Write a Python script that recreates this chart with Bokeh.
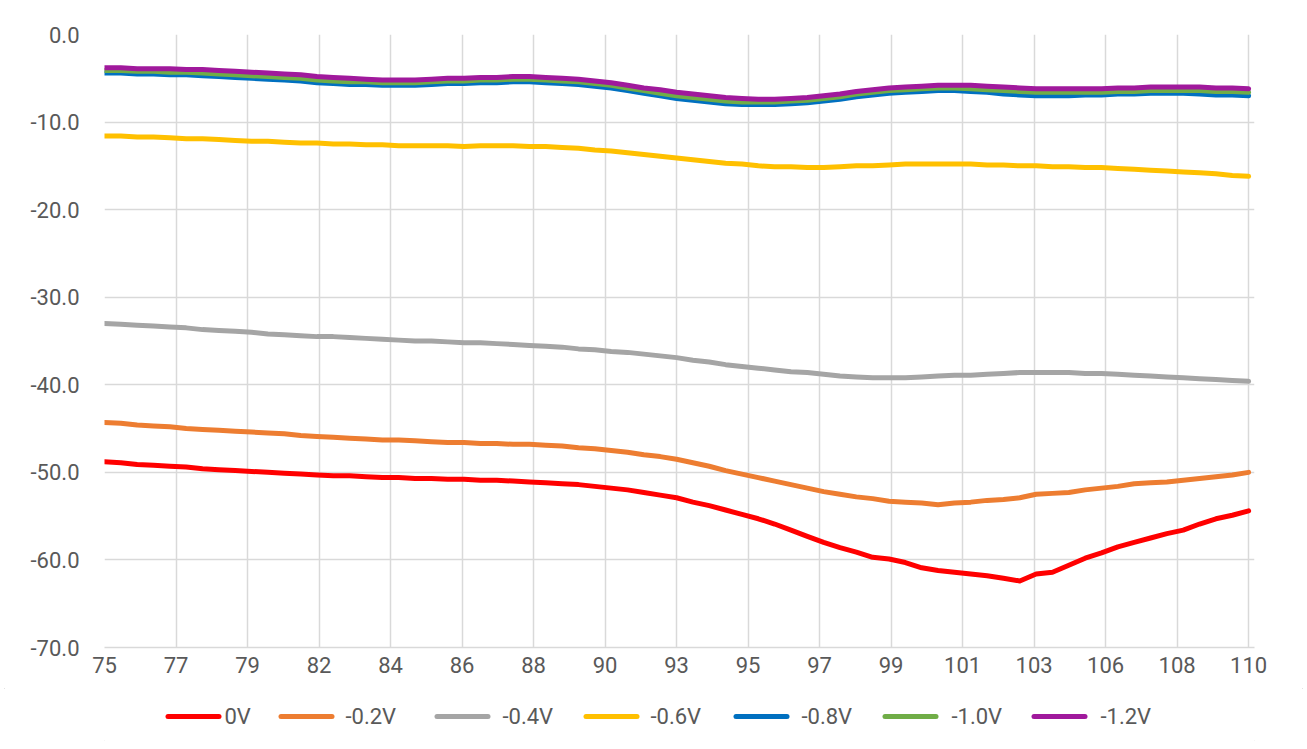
from bokeh.plotting import figure
from bokeh.layouts import column
from bokeh.models import FixedTicker, NumeralTickFormatter, Range1d
from bokeh.core.properties import value
from bokeh.embed import file_html
from bokeh.resources import INLINE

freq = [75.0, 75.5, 76.0, 76.5, 77.0, 77.5, 78.0, 78.5, 79.0, 79.5,
        80.0, 80.5, 81.0, 81.5, 82.0, 82.5, 83.0, 83.5, 84.0, 84.5,
        85.0, 85.5, 86.0, 86.5, 87.0, 87.5, 88.0, 88.5, 89.0, 89.5,
        90.0, 90.5, 91.0, 91.5, 92.0, 92.5, 93.0, 93.5, 94.0, 94.5,
        95.0, 95.5, 96.0, 96.5, 97.0, 97.5, 98.0, 98.5, 99.0, 99.5,
        100.0, 100.5, 101.0, 101.5, 102.0, 102.5, 103.0, 103.5, 104.0, 104.5,
        105.0, 105.5, 106.0, 106.5, 107.0, 107.5, 108.0, 108.5, 109.0, 109.5,
        110.0]

v_0 = [-48.8, -48.9, -49.1, -49.2, -49.3, -49.4, -49.6, -49.7, -49.8, -49.9,
       -50.0, -50.1, -50.2, -50.3, -50.4, -50.4, -50.5, -50.6, -50.6, -50.7,
       -50.7, -50.8, -50.8, -50.9, -50.9, -51.0, -51.1, -51.2, -51.3, -51.4,
       -51.6, -51.8, -52.0, -52.3, -52.6, -52.9, -53.4, -53.8, -54.3, -54.8,
       -55.3, -55.9, -56.6, -57.3, -58.0, -58.6, -59.1, -59.7, -59.9, -60.3,
       -60.9, -61.2, -61.4, -61.6, -61.8, -62.1, -62.4, -61.6, -61.4, -60.6,
       -59.8, -59.2, -58.5, -58.0, -57.5, -57.0, -56.6, -55.9, -55.3, -54.9,
       -54.4]

v_m02 = [-44.3, -44.4, -44.6, -44.7, -44.8, -45.0, -45.1, -45.2, -45.3, -45.4,
         -45.5, -45.6, -45.8, -45.9, -46.0, -46.1, -46.2, -46.3, -46.3, -46.4,
         -46.5, -46.6, -46.6, -46.7, -46.7, -46.8, -46.8, -46.9, -47.0, -47.2,
         -47.3, -47.5, -47.7, -48.0, -48.2, -48.5, -48.9, -49.3, -49.8, -50.2,
         -50.6, -51.0, -51.4, -51.8, -52.2, -52.5, -52.8, -53.0, -53.3, -53.4,
         -53.5, -53.7, -53.5, -53.4, -53.2, -53.1, -52.9, -52.5, -52.4, -52.3,
         -52.0, -51.8, -51.6, -51.3, -51.2, -51.1, -50.9, -50.7, -50.5, -50.3,
         -50.0]

v_m04 = [-33.0, -33.1, -33.2, -33.3, -33.4, -33.5, -33.7, -33.8, -33.9, -34.0,
         -34.2, -34.3, -34.4, -34.5, -34.5, -34.6, -34.7, -34.8, -34.9, -35.0,
         -35.0, -35.1, -35.2, -35.2, -35.3, -35.4, -35.5, -35.6, -35.7, -35.9,
         -36.0, -36.2, -36.3, -36.5, -36.7, -36.9, -37.2, -37.4, -37.7, -37.9,
         -38.1, -38.3, -38.5, -38.6, -38.8, -39.0, -39.1, -39.2, -39.2, -39.2,
         -39.1, -39.0, -38.9, -38.9, -38.8, -38.7, -38.6, -38.6, -38.6, -38.6,
         -38.7, -38.7, -38.8, -38.9, -39.0, -39.1, -39.2, -39.3, -39.4, -39.5,
         -39.6]

v_m06 = [-11.6, -11.6, -11.7, -11.7, -11.8, -11.9, -11.9, -12.0, -12.1, -12.2,
         -12.2, -12.3, -12.4, -12.4, -12.5, -12.5, -12.6, -12.6, -12.7, -12.7,
         -12.7, -12.7, -12.8, -12.7, -12.7, -12.7, -12.8, -12.8, -12.9, -13.0,
         -13.2, -13.3, -13.5, -13.7, -13.9, -14.1, -14.3, -14.5, -14.7, -14.8,
         -15.0, -15.1, -15.1, -15.2, -15.2, -15.1, -15.0, -15.0, -14.9, -14.8,
         -14.8, -14.8, -14.8, -14.8, -14.9, -14.9, -15.0, -15.0, -15.1, -15.1,
         -15.2, -15.2, -15.3, -15.4, -15.5, -15.6, -15.7, -15.8, -15.9, -16.1,
         -16.2]

v_m08 = [-4.4, -4.4, -4.5, -4.5, -4.6, -4.6, -4.7, -4.8, -4.9, -5.0,
         -5.1, -5.2, -5.3, -5.5, -5.6, -5.7, -5.7, -5.8, -5.8, -5.8,
         -5.7, -5.6, -5.6, -5.5, -5.5, -5.4, -5.4, -5.5, -5.6, -5.7,
         -5.9, -6.1, -6.4, -6.7, -7.0, -7.3, -7.5, -7.7, -7.9, -8.0,
         -8.0, -8.0, -7.9, -7.8, -7.6, -7.4, -7.1, -6.9, -6.7, -6.6,
         -6.5, -6.4, -6.4, -6.5, -6.6, -6.8, -6.9, -7.0, -7.0, -7.0,
         -6.9, -6.9, -6.8, -6.8, -6.7, -6.7, -6.7, -6.8, -6.9, -6.9,
         -7.0]

v_m10 = [-4.1, -4.1, -4.2, -4.2, -4.3, -4.3, -4.4, -4.5, -4.6, -4.7,
         -4.8, -4.9, -5.0, -5.2, -5.3, -5.4, -5.4, -5.5, -5.5, -5.5,
         -5.4, -5.3, -5.3, -5.2, -5.2, -5.1, -5.1, -5.2, -5.3, -5.4,
         -5.6, -5.8, -6.1, -6.4, -6.7, -7.0, -7.2, -7.4, -7.6, -7.7,
         -7.7, -7.7, -7.6, -7.5, -7.3, -7.1, -6.8, -6.6, -6.4, -6.3,
         -6.2, -6.1, -6.1, -6.2, -6.3, -6.4, -6.5, -6.6, -6.6, -6.6,
         -6.6, -6.6, -6.5, -6.5, -6.4, -6.4, -6.4, -6.4, -6.5, -6.5,
         -6.6]

v_m12 = [-3.8, -3.8, -3.9, -3.9, -3.9, -4.0, -4.0, -4.1, -4.2, -4.3,
         -4.4, -4.5, -4.6, -4.8, -4.9, -5.0, -5.1, -5.2, -5.2, -5.2,
         -5.1, -5.0, -5.0, -4.9, -4.9, -4.8, -4.8, -4.9, -5.0, -5.1,
         -5.3, -5.5, -5.8, -6.1, -6.3, -6.6, -6.8, -7.0, -7.2, -7.3,
         -7.4, -7.4, -7.3, -7.2, -7.0, -6.8, -6.5, -6.3, -6.1, -6.0,
         -5.9, -5.8, -5.8, -5.8, -5.9, -6.0, -6.1, -6.2, -6.2, -6.2,
         -6.2, -6.2, -6.1, -6.1, -6.0, -6.0, -6.0, -6.0, -6.1, -6.1,
         -6.2]

series_names = ["0V", "-0.2V", "-0.4V", "-0.6V", "-0.8V", "-1.0V", "-1.2V"]
series_values = [v_0, v_m02, v_m04, v_m06, v_m08, v_m10, v_m12]
series_colors = ["#FF0000", "#ED7D31", "#A5A5A5", "#FFC000", "#0070C0", "#70AD47", "#A0199C"]

x_tick_labels = ["75", "77", "79", "82", "84", "86", "88", "90", "93",
                 "95", "97", "99", "101", "103", "106", "108", "110"]
y_ticks = [-70, -60, -50, -40, -30, -20, -10, 0]

# legend strip layout (page pixels from the left)
legend_swatch_left = [165, 278, 434, 583, 733, 882, 1031]
legend_label_left = [224, 345, 502, 650, 801, 951, 1100]
SWATCH_LEN = 56

FONT = "Roboto"
FSIZE = "22px"
TXT = "#595959"
GRID = "#d9d9d9"

n = len(x_tick_labels)
x_ticks = [75 + (110 - 75) * k / (n - 1) for k in range(n)]

W = 1307
MAIN_H = 688
LEG_H = 57
BL, BR = 104, 53

p = figure(width=W, height=MAIN_H, output_backend="svg", toolbar_location=None,
           x_range=Range1d(75, 110.18), y_range=Range1d(-70, 0),
           min_border_left=BL, min_border_right=BR, min_border_top=34, min_border_bottom=41)
p.outline_line_color = None
p.background_fill_color = "white"

p.xaxis.ticker = FixedTicker(ticks=x_ticks)
p.xaxis.major_label_overrides = {t: lab for t, lab in zip(x_ticks, x_tick_labels)}
p.yaxis.ticker = FixedTicker(ticks=y_ticks)
p.yaxis.formatter = NumeralTickFormatter(format="0.0")

for ax in (p.xaxis[0], p.yaxis[0]):
    ax.major_tick_line_color = None
    ax.minor_tick_line_color = None
    ax.major_label_text_font = FONT
    ax.major_label_text_font_size = FSIZE
    ax.major_label_text_color = TXT
p.xaxis.axis_line_color = GRID
p.xaxis.axis_line_width = 1.5
p.yaxis.axis_line_color = None
p.xaxis.major_label_standoff = 3
p.yaxis.major_label_standoff = 19

p.xgrid.ticker = FixedTicker(ticks=x_ticks)
p.ygrid.ticker = FixedTicker(ticks=y_ticks)
for g in (p.xgrid[0], p.ygrid[0]):
    g.grid_line_color = GRID
    g.grid_line_width = 1.5

for vals, col in zip(series_values, series_colors):
    p.line(freq, vals, line_color=col, line_width=5, line_cap="round", line_join="round")

# legend strip below the chart; its x range equals page pixels
lg = figure(width=W, height=LEG_H, output_backend="svg", toolbar_location=None,
            x_range=Range1d(BL, W - BR), y_range=Range1d(0, LEG_H),
            x_axis_type=None, y_axis_type=None,
            min_border_left=BL, min_border_right=BR, min_border_top=0, min_border_bottom=0)
lg.outline_line_color = None
lg.xgrid.visible = False
lg.ygrid.visible = False

ymid = LEG_H - 28
for name, col, xs, xl in zip(series_names, series_colors, legend_swatch_left, legend_label_left):
    lg.segment(x0=[xs + 2.5], y0=[ymid], x1=[xs + SWATCH_LEN - 2.5], y1=[ymid],
               line_color=col, line_width=5, line_cap="round")
    lg.text(x=[xl], y=[ymid], text=[name],
            text_font=value(FONT), text_font_size=value(FSIZE), text_color=TXT,
            text_align="left", text_baseline="middle")

layout = column(p, lg, spacing=0)
layout.styles = {"outline": "1px solid #d9d9d9", "outline-offset": "-5px"}

open("out.html", "w").write(file_html(layout, INLINE))
